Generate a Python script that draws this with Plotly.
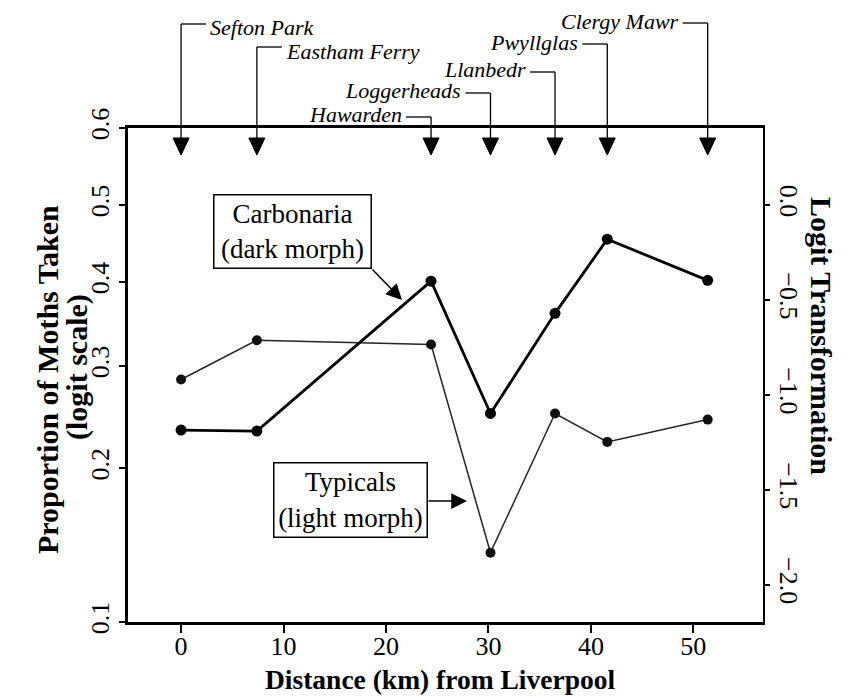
import numpy as np
import plotly.graph_objects as go

# Collecting sites, distance from Liverpool (km)
sites = ["Sefton Park", "Eastham Ferry", "Hawarden", "Loggerheads",
         "Llanbedr", "Pwyllglas", "Clergy Mawr"]
distance_km = [0.0, 7.4, 24.4, 30.2, 36.5, 41.6, 51.4]

# Proportion of moths taken at each site
carbonaria = [0.234, 0.233, 0.401, 0.250, 0.361, 0.455, 0.402]
typicals = [0.285, 0.329, 0.324, 0.138, 0.250, 0.223, 0.244]

# Axis ticks
prop_ticks = [0.1, 0.2, 0.3, 0.4, 0.5, 0.6]
logit_ticks = [-2.0, -1.5, -1.0, -0.5, 0.0]
x_ticks = [0, 10, 20, 30, 40, 50]


def logit(p):
    p = np.asarray(p, dtype=float)
    return np.log(p / (1.0 - p))


FONT = "Liberation Serif"
W, H = 849, 696
M_L, M_R, M_T, M_B = 128, 86, 128, 74
PLOT_W = W - M_L - M_R
PLOT_H = H - M_T - M_B

x_range = [-5.18, 56.8]
y_range = [float(logit(0.1)), float(logit(0.6))]
km_per_px = (x_range[1] - x_range[0]) / PLOT_W


def px_x(px):
    """paper x for a pixel column measured from the left of the page"""
    return (px - M_L) / PLOT_W


def py(px_from_top):
    """paper y for a pixel row measured from the top of the page"""
    return (H - M_B - px_from_top) / PLOT_H


fig = go.Figure()

fig.add_trace(go.Scatter(
    x=distance_km, y=logit(typicals), mode="lines+markers",
    line=dict(color="#262626", width=1.5),
    marker=dict(color="#111111", size=10),
    showlegend=False, hoverinfo="skip"))

fig.add_trace(go.Scatter(
    x=distance_km, y=logit(carbonaria), mode="lines+markers",
    line=dict(color="black", width=2.8),
    marker=dict(color="black", size=11),
    showlegend=False, hoverinfo="skip"))

# dummy trace so the right-hand logit axis is drawn
fig.add_trace(go.Scatter(x=[None], y=[None], yaxis="y2",
                         showlegend=False, hoverinfo="skip"))

shapes = []
annotations = []

# site markers along the top: leader line, elbow and label
leader_rows = [24, 47, 117, 93, 72, 44, 23]
label_rows = [27, 51, 114, 90, 70, 42, 21]
label_side = ["right", "right", "left", "left", "left", "left", "left"]
elbow_px = 25
tri_half = 8 * km_per_px
tri_top, tri_tip = py(138), py(155)

for name, xk, row, lrow, side in zip(sites, distance_km, leader_rows,
                                     label_rows, label_side):
    yl = py(row)
    sign = 1 if side == "right" else -1
    xe = xk + sign * elbow_px * km_per_px
    shapes.append(dict(type="line", xref="x", yref="paper",
                       x0=xk, x1=xk, y0=yl, y1=tri_top,
                       line=dict(color="black", width=1.3)))
    shapes.append(dict(type="line", xref="x", yref="paper",
                       x0=xk, x1=xe, y0=yl, y1=yl,
                       line=dict(color="black", width=1.3)))
    shapes.append(dict(
        type="path", xref="x", yref="paper",
        path=f"M {xk - tri_half},{tri_top} L {xk + tri_half},{tri_top} "
             f"L {xk},{tri_tip} Z",
        fillcolor="black", line=dict(color="black", width=1)))
    annotations.append(dict(
        xref="x", yref="paper", x=xe + sign * 2 * km_per_px, y=py(lrow),
        text=f"<i>{name}</i>", showarrow=False,
        xanchor="left" if side == "right" else "right", yanchor="middle",
        font=dict(family=FONT, size=22, color="black")))

# series labels in boxes
box_font = dict(family=FONT, size=27, color="black")
annotations.append(dict(
    xref="paper", yref="paper", x=px_x(292.5), y=py(231),
    xanchor="center", yanchor="middle",
    text="Carbonaria<br>(dark morph)", showarrow=False,
    font=box_font, width=150, height=66, borderpad=3,
    bordercolor="black", borderwidth=1.5, bgcolor="white"))
annotations.append(dict(
    xref="paper", yref="paper", x=px_x(402), y=py(300),
    xanchor="center", yanchor="middle",
    text="", showarrow=True, ax=-31, ay=-32, arrowhead=2,
    arrowsize=2.1, arrowwidth=1.5, arrowcolor="black"))

annotations.append(dict(
    xref="paper", yref="paper", x=px_x(350), y=py(499.5),
    xanchor="center", yanchor="middle",
    text="Typicals<br>(light morph)", showarrow=False,
    font=box_font, width=146, height=67, borderpad=3,
    bordercolor="black", borderwidth=1.5, bgcolor="white"))
annotations.append(dict(
    xref="paper", yref="paper", x=px_x(467), y=py(501),
    xanchor="center", yanchor="middle",
    text="", showarrow=True, ax=-40, ay=0, arrowhead=2,
    arrowsize=2.1, arrowwidth=1.5, arrowcolor="black"))

# axis titles
annotations.append(dict(
    xref="paper", yref="paper", x=px_x(47), y=py(380),
    xanchor="center", yanchor="middle",
    text="<b>Proportion of Moths Taken</b>",
    textangle=-90, showarrow=False,
    font=dict(family=FONT, size=30, color="black")))
annotations.append(dict(
    xref="paper", yref="paper", x=px_x(77), y=py(367),
    xanchor="center", yanchor="middle",
    text="<b>(logit scale)</b>",
    textangle=-90, showarrow=False,
    font=dict(family=FONT, size=30, color="black")))
annotations.append(dict(
    xref="paper", yref="paper", x=px_x(822), y=py(336),
    xanchor="center", yanchor="middle",
    text="<b>Logit Transformation</b>",
    textangle=90, showarrow=False,
    font=dict(family=FONT, size=30, color="black")))
annotations.append(dict(
    xref="paper", yref="paper", x=px_x(440), y=py(679),
    xanchor="center", yanchor="middle",
    text="<b>Distance (km) from Liverpool</b>",
    showarrow=False, font=dict(family=FONT, size=27.5, color="black")))

tick_font = dict(family=FONT, size=26, color="black")

fig.update_layout(
    width=W, height=H,
    margin=dict(l=M_L, r=M_R, t=M_T, b=M_B, pad=0),
    paper_bgcolor="white", plot_bgcolor="white",
    showlegend=False,
    xaxis=dict(range=x_range, tickvals=x_ticks, ticks="outside",
               ticklen=8, tickwidth=2, tickcolor="black",
               ticklabelstandoff=-9,
               showline=True, linewidth=2.5, linecolor="black",
               mirror=True, showgrid=False, zeroline=False,
               tickfont=tick_font),
    yaxis=dict(range=y_range, tickvals=logit(prop_ticks).tolist(),
               ticktext=[f"{p:.1f}" for p in prop_ticks],
               tickangle=-90, ticks="outside", ticklen=6, tickwidth=2,
               tickcolor="black", showline=True, linewidth=2.5,
               linecolor="black", showgrid=False, zeroline=False,
               tickfont=tick_font),
    yaxis2=dict(range=y_range, overlaying="y", side="right",
                tickvals=logit_ticks,
                ticktext=[f"{v:.1f}".replace("-", "\u2212") for v in logit_ticks],
                tickangle=90, ticks="outside", ticklen=5, tickwidth=2,
                tickcolor="black", showline=True, linewidth=2.2,
                linecolor="black", showgrid=False, zeroline=False,
                tickfont=tick_font),
    shapes=shapes,
    annotations=annotations,
)

fig.write_html("out.html")
